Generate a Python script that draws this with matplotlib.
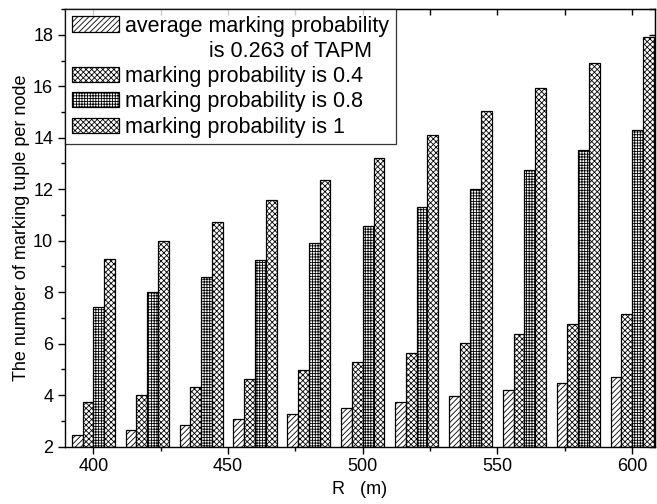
import numpy as np
import matplotlib
matplotlib.use('Agg')
import matplotlib.pyplot as plt
from matplotlib.patches import Patch
from matplotlib.ticker import MultipleLocator

plt.rcParams['font.family'] = ['Liberation Sans', 'DejaVu Sans']
plt.rcParams['hatch.linewidth'] = 0.6

R = [400, 420, 440, 460, 480, 500, 520, 540, 560, 580, 600]
tapm = [2.45, 2.64, 2.84, 3.06, 3.25, 3.48, 3.72, 3.95, 4.20, 4.46, 4.70]
p04 = [3.72, 4.00, 4.30, 4.62, 4.97, 5.29, 5.65, 6.01, 6.37, 6.76, 7.14]
p08 = [7.41, 8.00, 8.59, 9.25, 9.90, 10.56, 11.29, 12.01, 12.74, 13.53, 14.31]
p1 = [9.28, 10.00, 10.73, 11.57, 12.37, 13.20, 14.11, 15.02, 15.93, 16.92, 17.90]

labels = ['average marking probability',
          'marking probability is 0.4',
          'marking probability is 0.8',
          'marking probability is 1']
label_cont = '              is 0.263 of TAPM'
series = [tapm, p04, p08, p1]
hatches = ['//////', 'xxxxxx', '++++++', 'xxxxxx']

fig = plt.figure(figsize=(6.57, 5.04), dpi=100)
ax = fig.add_axes([0.099, 0.114, 0.898, 0.868])

x = np.array(R, dtype=float)
w = 4.0
bars = []
for i, (vals, lab, h) in enumerate(zip(series, labels, hatches)):
    b = ax.bar(x + (i - 1.5) * w, np.array(vals) - 2, width=w, bottom=2,
               color='white', edgecolor='black', linewidth=0.9, hatch=h, label=lab)
    bars.append(b)

ax.set_xlim(389.5, 608.5)
ax.set_ylim(2, 19)
ax.xaxis.set_major_locator(MultipleLocator(50))
ax.xaxis.set_minor_locator(MultipleLocator(25))
ax.yaxis.set_major_locator(MultipleLocator(2))
ax.yaxis.set_minor_locator(MultipleLocator(1))
ax.tick_params(axis='both', which='major', labelsize=13, length=5, width=1, direction='out')
ax.tick_params(axis='both', which='minor', length=3, width=1, direction='out')

# top and right ticks point inward
top = ax.secondary_xaxis('top')
top.xaxis.set_major_locator(MultipleLocator(25))
top.tick_params(direction='in', length=4, width=1, labeltop=False)
right = ax.secondary_yaxis('right')
right.yaxis.set_major_locator(MultipleLocator(1))
right.tick_params(direction='in', length=4, width=1, labelright=False)

for s in ax.spines.values():
    s.set_linewidth(1)

ax.set_xlabel('R   (m)', fontsize=13, labelpad=4)
ax.set_ylabel('The number of marking tuple per node', fontsize=13, labelpad=2)

blank = Patch(facecolor='none', edgecolor='none')
handles = [bars[0], blank, bars[1], bars[2], bars[3]]
leg_labels = [labels[0], label_cont, labels[1], labels[2], labels[3]]
leg = ax.legend(handles, leg_labels, loc='upper left', fontsize=15.5, frameon=True,
                fancybox=False, borderaxespad=0, handlelength=2.2, handleheight=0.7,
                handletextpad=0.3, labelspacing=0.2, borderpad=0.3)
leg.get_frame().set_edgecolor('black')
leg.get_frame().set_linewidth(0.9)

fig.savefig('out.png', dpi=100)
